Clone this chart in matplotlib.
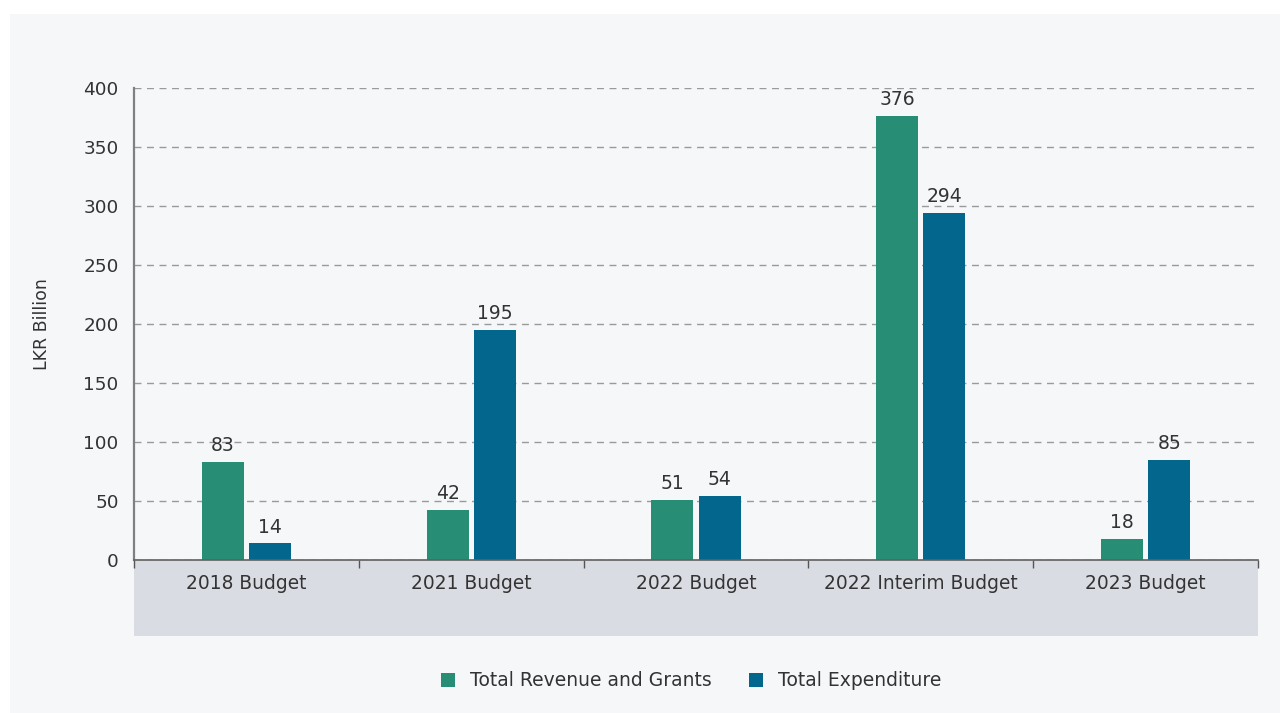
import matplotlib
matplotlib.use("Agg")
import matplotlib.pyplot as plt
from matplotlib.patches import Rectangle
import numpy as np

categories = ["2018 Budget", "2021 Budget", "2022 Budget", "2022 Interim Budget", "2023 Budget"]
revenue = [83, 42, 51, 376, 18]
expenditure = [14, 195, 54, 294, 85]
series_names = ["Total Revenue and Grants", "Total Expenditure"]
yticks = [0, 50, 100, 150, 200, 250, 300, 350, 400]

GREEN = "#278E75"
BLUE = "#03668C"
TXT = "#333333"

plt.rcParams['font.family'] = ['DejaVu Sans']

W, H = 1283, 713
fig = plt.figure(figsize=(W / 100, H / 100), dpi=100)
fig.patch.set_facecolor("white")
fig.patches.append(Rectangle((10 / W, 0), (1280 - 10) / W, (713 - 14) / H,
                             transform=fig.transFigure, facecolor="#F5F7F9",
                             edgecolor="none", zorder=-10))

ax = fig.add_axes([134 / W, (713 - 560) / H, (1258 - 134) / W, (560 - 88) / H])
ax.set_facecolor("none")

x = np.arange(len(categories))
w = 0.187
off = 0.105
b1 = ax.bar(x - off, revenue, w, color=GREEN, label=series_names[0], zorder=3)
b2 = ax.bar(x + off, expenditure, w, color=BLUE, label=series_names[1], zorder=3)

for bars, vals in ((b1, revenue), (b2, expenditure)):
    for r, v in zip(bars, vals):
        ax.annotate(f"{v}", (r.get_x() + r.get_width() / 2, v), xytext=(0, 5),
                    textcoords="offset points", ha="center", va="bottom",
                    fontsize=13.5, color=TXT, zorder=4)

ax.set_xlim(-0.5, len(categories) - 0.5)
ax.set_ylim(0, 400)
ax.set_yticks(yticks)
ax.tick_params(axis="y", length=0, labelsize=13.3, labelcolor=TXT, pad=11)
ax.yaxis.grid(True, linestyle=(0, (5, 4)), color="#9A9A9A", linewidth=1.0, zorder=0)
ax.set_axisbelow(True)

ax.set_xticks(x)
ax.set_xticklabels(categories)
ax.tick_params(axis="x", length=0, labelsize=13.4, labelcolor=TXT, pad=10)
ax.set_xticks(np.arange(len(categories) + 1) - 0.5, minor=True)
ax.tick_params(axis="x", which="minor", length=6, width=1, color="#555555", direction="out")

for s in ("top", "right"):
    ax.spines[s].set_visible(False)
ax.spines["left"].set_color("#808080")
ax.spines["left"].set_linewidth(1.6)
ax.spines["bottom"].set_color("#606060")
ax.spines["bottom"].set_linewidth(1.2)
ax.spines["bottom"].set_zorder(5)

band_h = (636 - 560) / (560 - 88)
ax.add_patch(Rectangle((0, -band_h), 1, band_h, transform=ax.transAxes,
                       facecolor="#D9DCE2", edgecolor="none", clip_on=False, zorder=-1))

fig.text(42 / W, 1 - 324 / H, "LKR Billion", rotation=90, ha="center", va="center",
         fontsize=12.5, color=TXT)

leg = fig.legend(handles=[b1, b2], labels=series_names, loc="center",
                 bbox_to_anchor=(691 / W, 1 - 681 / H), ncol=2, frameon=False,
                 fontsize=13.5, handlelength=0.75, handleheight=0.75, handletextpad=0.8,
                 columnspacing=2.0, labelcolor=TXT)

fig.savefig("out.png", dpi=100, facecolor=fig.get_facecolor())
